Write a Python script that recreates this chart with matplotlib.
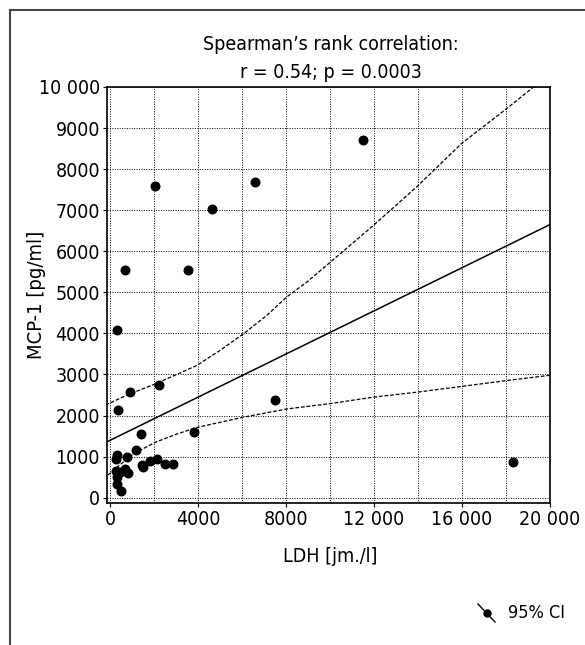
import matplotlib
matplotlib.use("Agg")
import matplotlib.pyplot as plt
from matplotlib.lines import Line2D

plt.rcParams['font.family'] = ['DejaVu Sans']
plt.rcParams['font.stretch'] = 'condensed'

# LDH [jm./l] vs MCP-1 [pg/ml]
ldh = [11500, 2050, 6600, 4640, 680, 3550, 320, 900, 2200, 360, 7500, 18300,
       3820, 1390, 300, 270, 760, 1180, 1790, 2120, 1440, 1510, 2500, 2830,
       270, 450, 650, 790, 300, 300, 500]
mcp1 = [8700, 7600, 7680, 7030, 5540, 5550, 4080, 2580, 2750, 2130, 2390, 860,
        1600, 1540, 1050, 950, 990, 1160, 890, 940, 790, 750, 830, 830,
        650, 630, 710, 600, 510, 340, 160]

# regression line and 95% CI curves
fit_x = [-150, 20000]
fit_y = [1360, 6650]
ci_hi_x = [-450, 900, 2050, 3940, 5000, 6060, 7120, 8030, 8940, 10000, 11970,
           13940, 15990, 17950, 19300]
ci_hi_y = [2200, 2530, 2770, 3220, 3590, 3990, 4440, 4890, 5250, 5730, 6630,
           7570, 8630, 9440, 10020]
ci_lo_x = [-300, 300, 1060, 2050, 3030, 3940, 6060, 8030, 10000, 12000, 13970,
           16000, 18000, 20000]
ci_lo_y = [460, 740, 1070, 1350, 1550, 1710, 1960, 2160, 2290, 2450, 2570,
           2710, 2850, 2980]

x_ticks = [0, 4000, 8000, 12000, 16000, 20000]
x_ticklabels = ['0', '4000', '8000', '12 000', '16 000', '20 000']
y_ticks = list(range(0, 10001, 1000))
y_ticklabels = [str(v) for v in y_ticks[:-1]] + ['10 000']

fig = plt.figure(figsize=(5.85, 6.45), dpi=100)
ax = fig.add_axes([107 / 585, 1 - 503 / 645, 443 / 585, 416 / 645])

ax.set_xlim(-150, 20000)
ax.set_ylim(-130, 10000)
ax.set_xticks(range(0, 20001, 2000), minor=True)
ax.set_xticks(x_ticks)
ax.set_xticklabels(x_ticklabels)
ax.set_yticks(y_ticks)
ax.set_yticklabels(y_ticklabels)
ax.grid(True, which='both', color='black', linestyle=(0, (1, 1.5)), linewidth=0.7)
ax.tick_params(which='both', length=3, width=0.8, labelsize=14, pad=2)
ax.tick_params(which='minor', length=0)
for s in ax.spines.values():
    s.set_linewidth(1.2)

ax.plot(fit_x, fit_y, color='black', linewidth=1.1)
ax.plot(ci_hi_x, ci_hi_y, color='black', linewidth=0.9, linestyle=(0, (3, 1.5)))
ax.plot(ci_lo_x, ci_lo_y, color='black', linewidth=0.9, linestyle=(0, (3, 1.5)))
ax.scatter(ldh, mcp1, s=38, color='black', zorder=5, clip_on=False)

ax.set_xlabel('LDH [jm./l]', fontsize=14)
ax.set_ylabel('MCP-1 [pg/ml]', fontsize=14.5)
ax.xaxis.set_label_coords((330 - 107) / 443, (503 - 557) / 416)
ax.yaxis.set_label_coords((37 - 107) / 443, 0.5)
ax.xaxis.label.set_va('center')
ax.yaxis.label.set_va('center')
fig.text(331 / 585, 1 - 45 / 645, "Spearman\u2019s rank correlation:", fontsize=14,
         ha='center', va='center')
fig.text(331 / 585, 1 - 72 / 645, "r = 0.54; p = 0.0003", fontsize=14,
         ha='center', va='center')

# legend symbol
fig.add_artist(Line2D([478 / 585, 495 / 585], [1 - 604 / 645, 1 - 622 / 645],
                      color='black', linewidth=1.0))
fig.add_artist(Line2D([487 / 585], [1 - 613 / 645], marker='o', markersize=5,
                      color='black'))
fig.text(508 / 585, 1 - 613 / 645, '95% CI', fontsize=13, ha='left', va='center')

# outer frame
fig.add_artist(Line2D([10 / 585, 10 / 585], [0, 1 - 10 / 645], color='#444444', linewidth=1.5))
fig.add_artist(Line2D([10 / 585, 1], [1 - 10 / 645, 1 - 10 / 645], color='#444444', linewidth=1.5))

fig.savefig('out.png', dpi=100)
